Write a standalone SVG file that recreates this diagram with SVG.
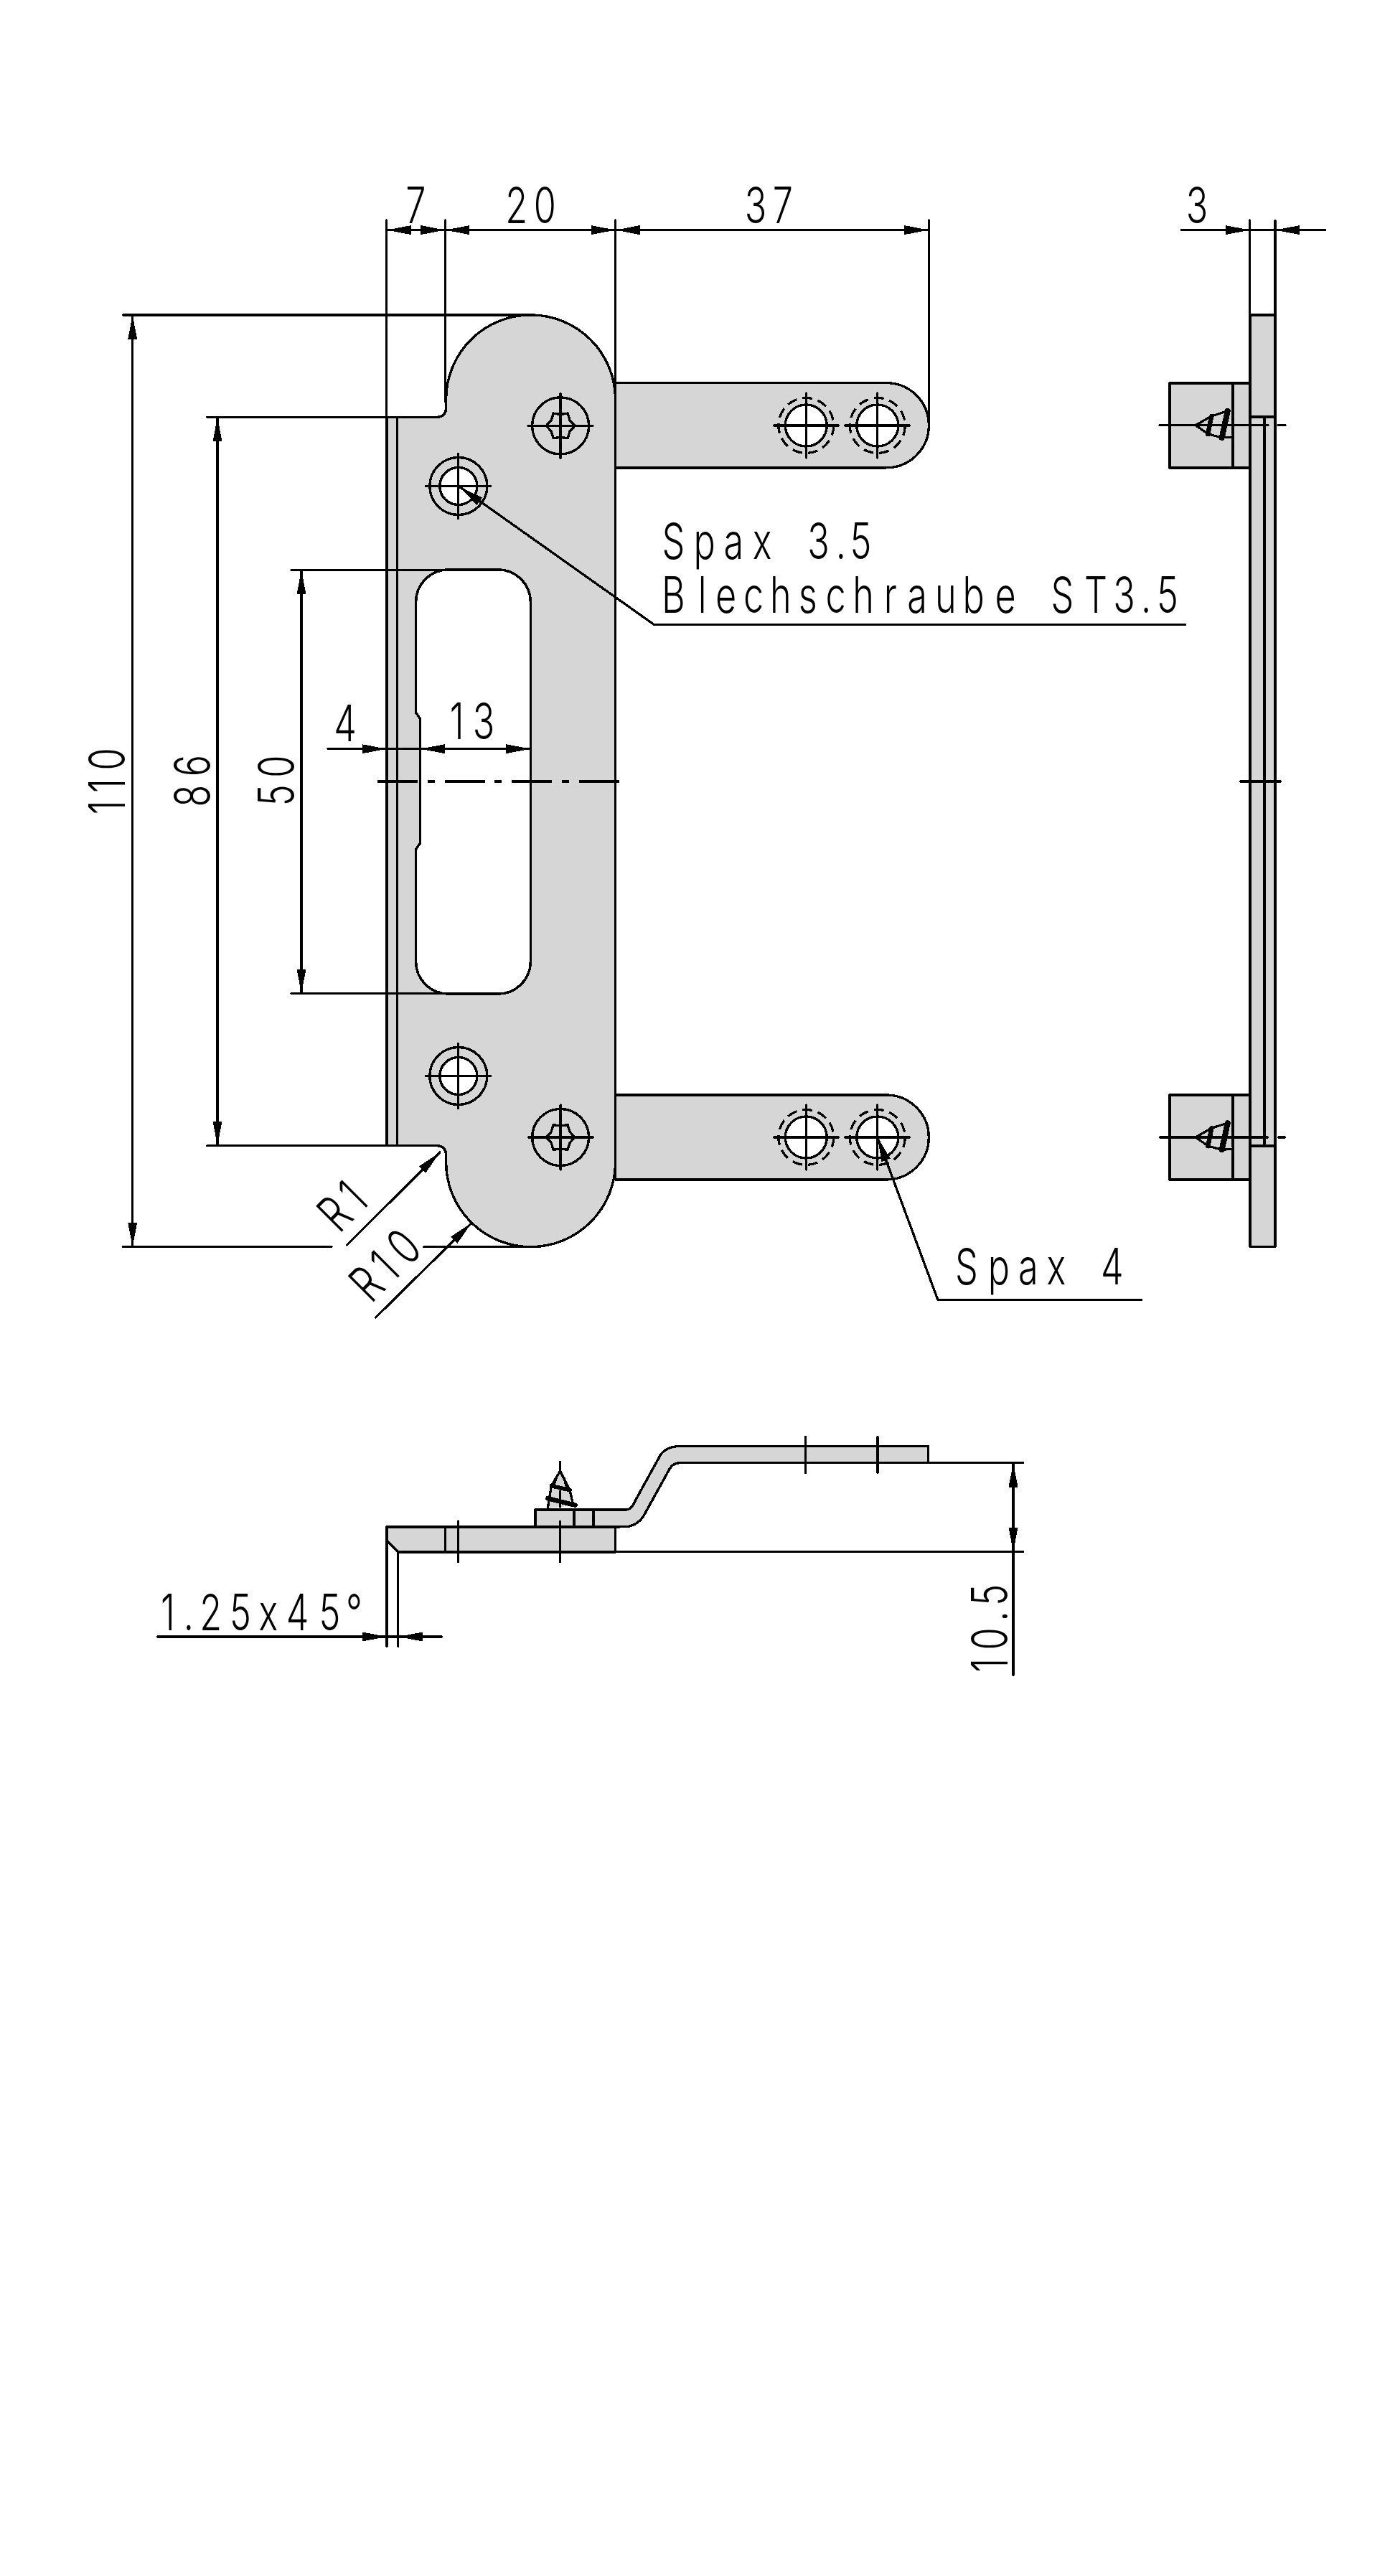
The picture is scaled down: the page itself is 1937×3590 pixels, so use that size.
<svg xmlns="http://www.w3.org/2000/svg" width="1937" height="3590" viewBox="0 0 1937 3590" shape-rendering="crispEdges">
<style>
.p{fill:#d6d6d6;stroke:#000;stroke-width:3.4;stroke-linejoin:round}
.l{fill:none;stroke:#000;stroke-width:3.3;stroke-linecap:round;stroke-linejoin:round}
.a{marker-end:url(#arrow)}
.h{fill:#fff;stroke:#000;stroke-width:3.4}
.o{fill:none;stroke:#000;stroke-width:3.4}
.d{fill:none;stroke:#000;stroke-width:3.3;stroke-dasharray:14 8}
.t{font-family:Inter,"Liberation Sans",sans-serif;font-weight:350;font-size:70px;text-anchor:middle;fill:#000}
</style>
<defs>
<marker id="arrow" markerUnits="userSpaceOnUse" viewBox="0 0 34 13" refX="34" refY="6.5" markerWidth="34" markerHeight="13" orient="auto"><path d="M0 0L34 6.5L0 13Z" fill="#000"/></marker>
<g id="cross"><path class="l" d="M-45 0H45M0 -45V45"/></g>
<g id="star"><circle class="o" r="39.5"/><path class="o" d="M20 0L13 7.5L10 17.3L0 16L-10 17.3L-13 7.5L-20 0L-13 -7.5L-10 -17.3L0 -16L10 -17.3L13 -7.5Z"/><use href="#cross"/></g>
<g id="hole"><circle class="o" r="40"/><circle class="h" r="26"/><use href="#cross"/></g>
<g id="slotted"><circle class="h" r="29"/><circle class="d" r="38.5"/><use href="#cross"/></g>
<g id="sidescrew"><path class="l" style="fill:#d6d6d6" d="M1710 573L1688 580L1666 592.7L1684 605L1703 610L1717 609"/><path fill="none" stroke="#000" stroke-width="6.5" stroke-linecap="round" d="M1688.3 580L1683.3 605"/><path fill="none" stroke="#000" stroke-width="8" stroke-linecap="round" d="M1710.7 573L1702.7 610"/></g>
</defs>

<g id="front-view">
<g id="front-tabs">
<path class="p" d="M857.6 533.6H1235.3A59 59 0 0 1 1235.3 651.8H857.6Z"/>
<path class="p" d="M857.6 1526H1235.3A59 59 0 0 1 1235.3 1644H857.6Z"/>
</g>
<path id="front-plate" class="p" d="M538.8 581.3H609.8A11.8 11.8 0 0 0 621.6 569.5V556.9A118 118 0 0 1 857.6 556.9V1619.7A118 118 0 0 1 621.6 1619.7V1608.5A11.8 11.8 0 0 0 609.8 1596.7H538.8Z"/>
<path id="front-chamfer" class="l" d="M553.6 581.3V1596.7"/>
<path id="front-slot" class="h" d="M579.6 839V993.3L585.7 1001.7V1175L579.6 1183.3V1340A45 45 0 0 0 624.6 1385H694.3A45 45 0 0 0 739.3 1340V839A45 45 0 0 0 694.3 794H624.6A45 45 0 0 0 579.6 839Z"/>
<path id="front-centerline" class="l" style="stroke-linecap:butt;stroke-dasharray:56 13.5 10 14" d="M526 1089H865"/>
<g id="front-holes">
<use href="#star" x="781.1" y="593.4"/>
<use href="#star" x="781.1" y="1585"/>
<use href="#hole" x="638.8" y="677.5"/>
<use href="#hole" x="638.8" y="1499.5"/>
<use href="#slotted" x="1123.3" y="593"/>
<use href="#slotted" x="1222.8" y="593"/>
<use href="#slotted" x="1123.3" y="1585"/>
<use href="#slotted" x="1222.8" y="1585"/>
</g>
</g>

<g id="side-view">
<rect class="p" x="1630" y="534" width="112" height="118"/>
<rect class="p" x="1630" y="1526" width="112" height="118"/>
<path class="l" d="M1718 534V652M1718 1526V1644"/>
<rect class="p" x="1742" y="439" width="35" height="1298.7"/>
<path class="l" d="M1742 581H1777M1742 1597H1777M1762 581V1597"/>
<use href="#sidescrew"/>
<use href="#sidescrew" y="992.3"/>
<path class="l" d="M1616 592.7H1767M1781 592.7H1791M1616 1585H1767M1781 1585H1791M1728 1089H1785"/>
</g>

<g id="bottom-view">
<path class="p" d="M873.3 2104H746V2128H857.6L875 2127.5Q889 2125 896.7 2113L933.3 2046.7Q938 2039 947 2038.7H1293.6V2015.5H947Q928 2016 920 2028.3L886 2090Q880 2104 873.3 2104Z"/>
<path class="l" d="M800 2104V2128M827 2104V2128"/>
<path class="p" d="M539 2128H857.6V2163H554.8L539 2147.3Z"/>
<path class="l" d="M620.3 2128V2163M638.5 2120V2176.7M780.5 2120.7V2176.7M1122.8 2002.3V2052.7M1223 2002.3V2052.7M780.5 2037.5V2100"/>
<path class="l" style="fill:#d6d6d6" d="M763.3 2102L768.3 2071L780.5 2050L794 2076.7L799 2098"/>
<path class="l" d="M775 2060L771 2072M786 2060L790 2074M780.5 2078V2100"/>
<path fill="none" stroke="#000" stroke-width="5.5" stroke-linecap="round" d="M768.3 2070.7L794 2076.7"/>
<path fill="none" stroke="#000" stroke-width="6.5" stroke-linecap="round" d="M763.3 2088.3L801.7 2097.7"/>
</g>

<g id="connectors">
<path class="l" d="M538.8 307V581.3M620.4 307V560M857.6 307V560M1294.3 307V592M1741.8 307V439M1777 307V439"/>
<path class="l" d="M171.4 438.9H738M288.8 581.3H609M406 794.3H625M406 1384.6H625M288.8 1596.7H609M171.4 1737.7H462M590.8 1737.7H738"/>
<path class="l" d="M572 320.6H588.8M653.6 320.6H825.5M891 320.6H1261M1742 320.6H1777"/>
<path class="l a" d="M572 320.6H538.8"/><path class="l a" d="M588.8 320.6H620.4"/>
<path class="l a" d="M653.6 320.6H620.4"/><path class="l a" d="M825.5 320.6H857.6"/>
<path class="l a" d="M891 320.6H857.6"/><path class="l a" d="M1261 320.6H1294.3"/>
<path class="l a" d="M1646.7 320.6H1741.8"/><path class="l a" d="M1846.7 320.6H1777"/>
<path class="l" d="M184.7 472V1704M303 614V1563M420 828V1350"/>
<path class="l a" d="M184.7 480V438.9"/><path class="l a" d="M184.7 1700V1737.7"/>
<path class="l a" d="M303 620V581.3"/><path class="l a" d="M303 1560V1596.7"/>
<path class="l a" d="M420 835V794.3"/><path class="l a" d="M420 1345V1384.6"/>
<path class="l a" d="M457 1043.7H538.8"/>
<path class="l" d="M538.8 1043.7H586"/>
<path class="l a" d="M660 1043.7H585.7"/><path class="l a" d="M660 1043.7H739.3"/>
<path class="l a" d="M483.7 1734.9L612.8 1606"/>
<path class="l a" d="M523.5 1836L657.1 1704.4"/>
<path class="l" d="M1651.4 870.6H911.6L640.8 678.7"/>
<path class="l a" d="M670 700L640.8 678.7"/>
<path class="l" d="M1590.8 1811.7H1307L1222.8 1585"/>
<path class="l a" d="M1240 1631L1222.8 1585"/>
<path class="l" d="M539 2147V2294.3M554.8 2163V2294.3M554.8 2162.7H1425.5M947 2038.7H1425.5"/>
<path class="l a" d="M219.8 2281H539"/><path class="l a" d="M615.3 2281H554.8"/>
<path class="l" d="M539 2281H554.8"/>
<path class="l" d="M1412 2060V2335"/>
<path class="l a" d="M1412 2080V2038.7"/><path class="l a" d="M1412 2120V2162.7"/>
</g>

<g id="labels">
<text class="t" transform="translate(579.4 311) scale(.72 1)">7</text>
<text class="t" transform="translate(719.8 311) scale(.72 1)" x="0 55">20</text>
<text class="t" transform="translate(1053 311) scale(.72 1)" x="0 52.5">37</text>
<text class="t" transform="translate(1668 311) scale(.72 1)">3</text>
<text class="t" transform="translate(938.4 779) scale(.72 1)" x="0 60 116.7 171.7 225 280.8 324.2 362.5">Spax 3.5</text>
<text class="t" transform="translate(938.4 853.6) scale(.72 1)" x="0 55.8 101.7 155 207.5 260.4 314.2 367.5 420 471.7 527 580.8 642.5 700 752.9 817.5 872.5 914.8 956.4">Blechschraube ST3.5</text>
<text class="t" transform="translate(1347 1790) scale(.72 1)" x="0 62.5 119.2 173.3 226.7 281.7">Spax 4</text>
<text class="t" transform="translate(481 1033) scale(.72 1)">4</text>
<text class="t" transform="translate(636.7 1030) scale(.72 1)" x="0 51.7">13</text>
<text class="t" transform="translate(174 1133) rotate(-90) scale(.72 1)" x="10.8 52.5 104.2">110</text>
<text class="t" transform="translate(293 1109) rotate(-90) scale(.72 1)" x="0 58.3">86</text>
<text class="t" transform="translate(410 1108.3) rotate(-90) scale(.72 1)" x="0 55.8">50</text>
<text class="t" transform="translate(475 1718) rotate(-45) scale(.72 1)" x="18 66.7">R1</text>
<text class="t" transform="translate(519.4 1815.6) rotate(-45) scale(.72 1)" x="18 66.7 119.7">R10</text>
<text class="t" transform="translate(0 2271.7) scale(.72 1)" x="324.8 365.2 407.8 465.3 519.4 576 638.1 685.3">1.25x45°</text>
<text class="t" transform="translate(1404 2330) rotate(-90) scale(.72 1)" x="12.9 63.9 107.9 149">10.5</text>
</g>
</svg>
